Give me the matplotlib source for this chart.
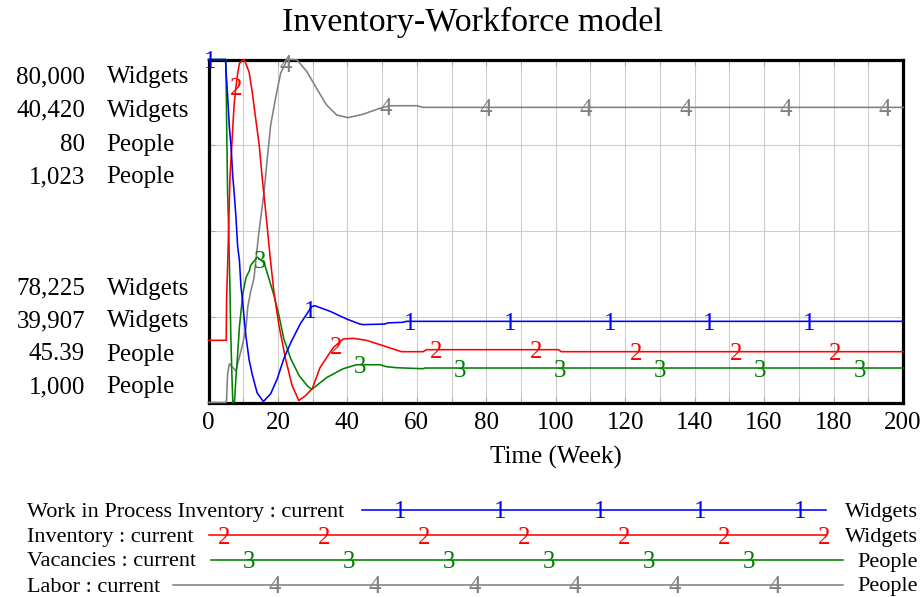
import matplotlib
matplotlib.use("Agg")
import matplotlib.pyplot as plt
import numpy as np

plt.rcParams['font.family'] = ['Liberation Serif', 'DejaVu Serif']

# ---------------- data ----------------
title = "Inventory-Workforce model"
x_label = "Time (Week)"
x_ticks = [0, 20, 40, 60, 80, 100, 120, 140, 160, 180, 200]

series_names = ["Work in Process Inventory : current", "Inventory : current",
                "Vacancies : current", "Labor : current"]
series_units = ["Widgets", "Widgets", "People", "People"]
series_ids = ["1", "2", "3", "4"]
series_colors = ["#0000ff", "#ff0000", "#008000", "#808080"]

y_min = [78225, 39907, 45.39, 1000]
y_max = [80000, 40420, 80, 1023]
top_labels = ["80,000", "40,420", "80", "1,023"]
bottom_labels = ["78,225", "39,907", "45.39", "1,000"]

wip_t = [0, 4.9, 5.1, 5.3, 6.0, 6.5, 7.0, 7.4, 7.9, 8.4, 8.9, 9.35, 9.8, 10.3, 10.8,
         11.7, 12.6, 14.0, 15.8, 17.9, 19.8, 21.7, 23.7, 26.4, 29.7, 30.6, 35.0,
         39.8, 43.6, 44.5, 50.8, 51.7, 56.0, 57.0, 200]
wip_v = [80000, 80000, 79920, 79877, 79652, 79549, 79393, 79308, 79186, 79031, 78962,
         78824, 78755, 78652, 78565, 78445, 78370, 78275, 78230, 78270, 78348, 78452,
         78535, 78631, 78721, 78726, 78697, 78657, 78631, 78628, 78631, 78637, 78640,
         78645, 78645]

inv_t = [0, 5.1, 5.2, 5.5, 5.8, 6.2, 7.0, 7.4, 7.9, 8.4, 8.9, 9.8, 10.3, 11.7, 12.6,
         13.6, 14.6, 15.5, 16.5, 17.8, 18.85, 20.3, 22.2, 24.1, 26.0, 27.9, 29.9, 32.1,
         35.9, 38.8, 41.7, 45.5, 50.3, 53.2, 55.6, 61.8, 62.8, 100.7, 101.6, 200]
inv_v = [40000, 40000, 40060, 40110, 40170, 40245, 40319, 40354, 40379, 40399, 40414,
         40419, 40420, 40401, 40371, 40331, 40292, 40241, 40191, 40122, 40072, 40022,
         39972, 39932, 39910, 39917, 39928, 39959, 39989, 40002, 40003, 40000, 39992,
         39987, 39983, 39983, 39986, 39986, 39983, 39983]

vac_t = [0, 5.0, 5.24, 5.5, 5.8, 6.0, 6.2, 6.4, 6.7, 7.0, 7.5, 7.9, 8.4, 8.9, 9.9,
         10.8, 11.8, 12.1, 14.0, 16.0, 17.4, 18.85, 20.3, 21.7, 23.7, 26.1, 28.4, 29.7,
         34.0, 38.8, 42.6, 49.4, 51.3, 54.2, 61.8, 62.3, 200]
vac_v = [80, 80, 73.2, 66.5, 63.1, 59.7, 56.4, 52.6, 48.6, 45.39, 45.5, 47.9, 50.3,
         53.0, 56.4, 58.0, 58.7, 59.2, 60.05, 59.5, 57.9, 56.2, 54.15, 51.8, 49.8, 48.1,
         47.1, 46.7, 47.9, 48.8, 49.2, 49.2, 49.0, 48.9, 48.8, 48.87, 48.87]

lab_t = [0, 5.0, 5.2, 5.5, 6.0, 7.0, 7.9, 8.4, 9.4, 9.8, 10.8, 11.3, 12.2, 13.1, 14.5,
         16.0, 16.9, 17.9, 19.3, 20.8, 22.7, 24.4, 25.5, 28.3, 31.1, 34.0, 36.9, 40.2,
         44.5, 49.4, 52.2, 59.9, 61.8, 200]
lab_v = [1000, 1000, 1000.2, 1001.9, 1002.6, 1002.35, 1002.1, 1002.6, 1003.5, 1003.9,
         1005.0, 1006.4, 1007.5, 1008.35, 1011.4, 1014.1, 1016.3, 1018.6, 1020.4,
         1022.1, 1023, 1023, 1022.97, 1022.2, 1021.07, 1019.95, 1019.28, 1019.1,
         1019.33, 1019.73, 1019.9, 1019.9, 1019.79, 1019.79]

series_t = [wip_t, inv_t, vac_t, lab_t]
series_v = [wip_v, inv_v, vac_v, lab_v]

# marker (digit) placement along the curves
marker_start = [0.4, 7.9, 14.8, 22.2]
marker_step = 28.78

# ---------------- figure ----------------
W, H = 924, 597
fig = plt.figure(figsize=(W / 100, H / 100), dpi=100)
fig.patch.set_facecolor("white")

ax_l, ax_r, ax_t, ax_b = 208.5, 903.0, 59.5, 402.5
ax = fig.add_axes([ax_l / W, 1 - ax_b / H, (ax_r - ax_l) / W, (ax_b - ax_t) / H])
ax.set_xlim(0, 200)
ax.set_ylim(0, 1)
ax.set_xticks(x_ticks)
ax.set_xticks(np.arange(0, 201, 10), minor=True)
ax.set_yticks([0.25, 0.5, 0.75])
ax.set_yticklabels([])
ax.grid(True, which="both", axis="x", color="#cccccc", lw=0.8)
ax.grid(True, axis="y", color="#cccccc", lw=0.8)
ax.tick_params(axis="x", which="both", direction="in", length=4, color="#aaaaaa",
               top=True, labelsize=18, pad=7)
ax.tick_params(axis="y", direction="in", length=4, color="#aaaaaa", right=True)
for sp in ax.spines.values():
    sp.set_linewidth(2.3)
    sp.set_color("black")
ax.set_xlabel(x_label, fontsize=18)
ax.xaxis.label.set_va("center")
ax.xaxis.set_label_coords(0.5, (ax_b - 457) / (ax_b - ax_t))

fig.text(472 / W, 1 - 22 / H, title, fontsize=24.5, ha="center", va="center")

# series on their own scales, series 1 drawn on top
for k in reversed(range(4)):
    a = ax.twinx()
    a.set_zorder(ax.get_zorder() + 10 - k)
    a.patch.set_visible(False)
    a.set_ylim(y_min[k], y_max[k])
    a.set_yticks([])
    for sp in a.spines.values():
        sp.set_visible(False)
    a.plot(series_t[k], series_v[k], color=series_colors[k], lw=1.15, clip_on=False)
    mt = np.arange(marker_start[k], 200, marker_step)
    mv = np.interp(mt, series_t[k], series_v[k])
    for tt, vv in zip(mt, mv):
        a.text(tt, vv, series_ids[k], color=series_colors[k], fontsize=18,
               ha="center", va="center_baseline", clip_on=False)

# scale labels at left
top_rows = [75, 108, 142, 175]
bot_rows = [286, 318.5, 352, 385]
for k in range(4):
    for rows, labs in ((top_rows, top_labels), (bot_rows, bottom_labels)):
        y = 1 - rows[k] / H
        fig.text(85 / W, y, labs[k], fontsize=18, ha="right", va="center_baseline")
        fig.text(106.5 / W, y, series_units[k], fontsize=18, ha="left", va="center_baseline")

# legend below
lg = fig.add_axes([0, 0, 1, 1])
lg.set_xlim(0, W)
lg.set_ylim(H, 0)
lg.axis("off")
leg_rows = [510, 535, 559.5, 584.5]
leg_line_start = [361.7, 209.3, 211, 172.7]
leg_line_end = [826, 826, 843, 843]
leg_mark_start = [400, 224, 249, 275]
leg_mark_count = [5, 7, 6, 6]
for k in range(4):
    y = leg_rows[k]
    lg.text(26.7, y, series_names[k], fontsize=16, ha="left", va="center_baseline")
    lg.plot([leg_line_start[k], leg_line_end[k]], [y, y], color=series_colors[k], lw=1.15)
    for j in range(leg_mark_count[k]):
        lg.text(leg_mark_start[k] + 100 * j, y, series_ids[k], color=series_colors[k],
                fontsize=18, ha="center", va="center_baseline")
    lg.text(918, y, series_units[k], fontsize=16, ha="right", va="center_baseline")

fig.savefig("out.png", dpi=100, facecolor="white")
